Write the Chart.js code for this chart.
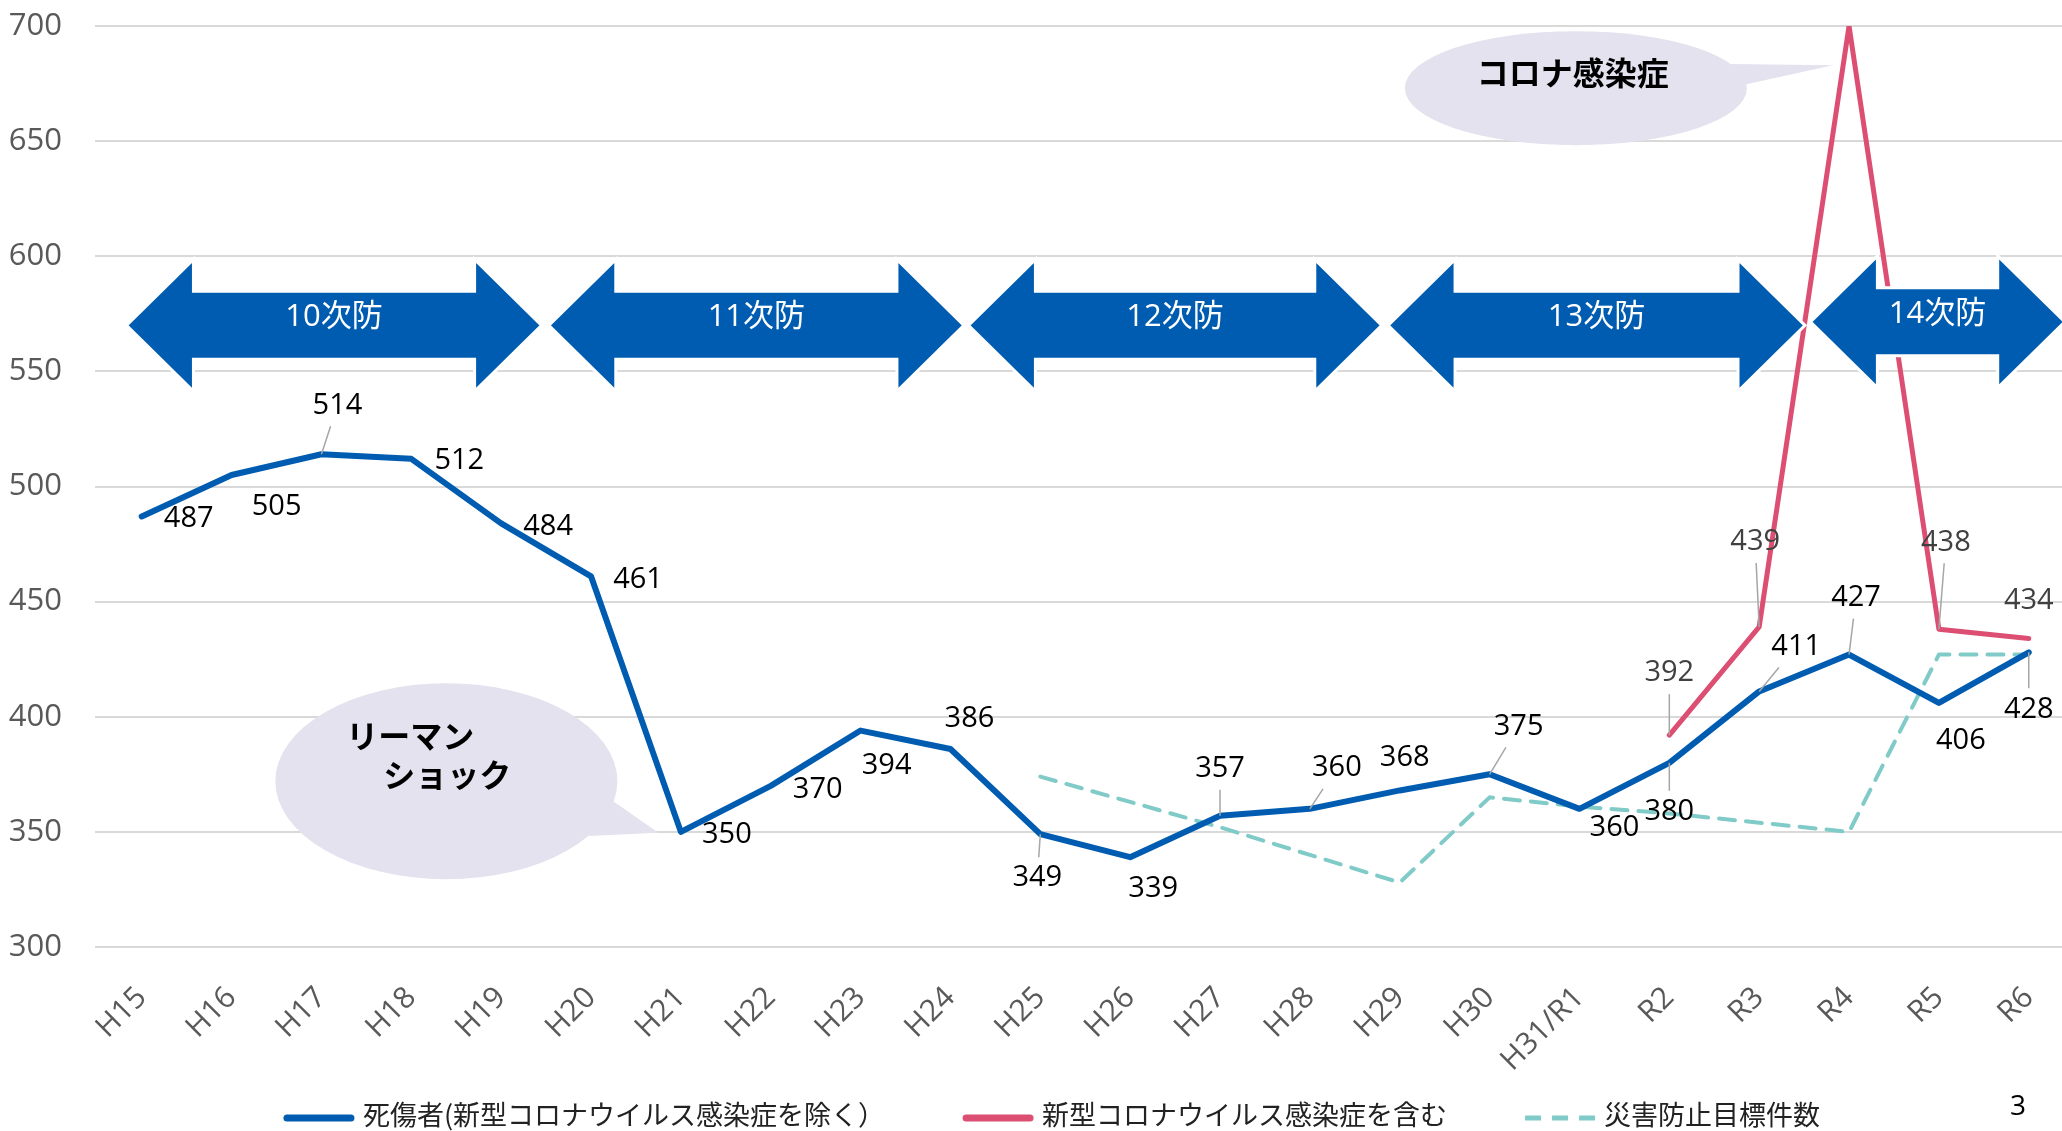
<!DOCTYPE html>
<html lang="ja">
<head>
<meta charset="utf-8">
<title>死傷者数の推移</title>
<script src="https://cdn.jsdelivr.net/npm/chart.js@4.4.1/dist/chart.umd.min.js"></script>
<style>
  html, body { margin: 0; padding: 0; background: #fff; }
</style>
</head>
<body>
<canvas id="chart" width="2062" height="1131"></canvas>
<script>
// 年度
const years = ['H15', 'H16', 'H17', 'H18', 'H19', 'H20', 'H21', 'H22', 'H23', 'H24', 'H25',
  'H26', 'H27', 'H28', 'H29', 'H30', 'H31/R1', 'R2', 'R3', 'R4', 'R5', 'R6'];

// 死傷者(新型コロナウイルス感染症を除く)
const casualties = [487, 505, 514, 512, 484, 461, 350, 370, 394, 386, 349,
  339, 357, 360, 368, 375, 360, 380, 411, 427, 406, 428];

// 新型コロナウイルス感染症を含む
const withCovid = [null, null, null, null, null, null, null, null, null, null, null,
  null, null, null, null, null, null, 392, 439, 700, 438, 434];

// 災害防止目標件数
const targets = [null, null, null, null, null, null, null, null, null, null, 374,
  363, 352, 340, 328, 365, 361, 358, 354, 350, 427, 427];

// y軸
const yMin = 300;
const yMax = 700;
const yStep = 50;

// 次防の期間（年度インデックス）
const plans = ['10次防', '11次防', '12次防', '13次防', '14次防'];
const planStart = [-0.17, 4.53, 9.2, 13.87, 18.57];
const planEnd = [4.45, 9.15, 13.8, 18.51, 21.4];

// データラベルの位置 [dx, dy, 引き出し線]
const casualtyLabelPos = [[47, 2], [45, 32], [16, -49, 1], [48, 2], [47, 3], [47, 3], [46, 3], [47, 4],
  [26, 35], [19, -30], [-3, 44, 1], [23, 32], [0, -47, 1], [27, -41, 1], [5, -33], [29, -48, 1],
  [35, 19], [0, 49, 1], [37, -45, 1], [7, -57, 1], [22, 38], [0, 57, 1]];
const covidLabelPos = {17: [0, -62, 1], 18: [-4, -85, 1], 20: [7, -87, 1], 21: [0, -38]};

const FONT = '"Open Sans", "Noto Sans CJK JP", sans-serif';
const JP_FONT = '"Noto Sans CJK JP", sans-serif';

function toPoints(values) {
    return values.map((v, i) => ({ x: i, y: v })).filter(p => p.y !== null);
}

// 吹き出し
const callouts = [
    { text: ['コロナ感染症'], x: 15.96, y: 673, rx: 171, ry: 57, tipX: 18.82, tipY: 683, a1: -25, a2: -4, tx: [-3], ty: [-15] },
    { text: ['リーマン', 'ショック'], x: 3.39, y: 372, rx: 171, ry: 98, tipX: 5.75, tipY: 349.6, a1: 12, a2: 34, tx: [-36, 1], ty: [-45, -6] }
];

const decorations = {
    id: 'decorations',
    beforeDatasetsDraw(chart) {
        const { ctx, scales: { x, y } } = chart;
        ctx.save();
        callouts.forEach(c => {
            const cx = x.getPixelForValue(c.x);
            const cy = y.getPixelForValue(c.y);
            ctx.fillStyle = '#e3e2ee';
            ctx.beginPath();
            ctx.ellipse(cx, cy, c.rx, c.ry, 0, 0, Math.PI * 2);
            ctx.fill();
            const t1 = c.a1 * Math.PI / 180, t2 = c.a2 * Math.PI / 180;
            ctx.beginPath();
            ctx.moveTo(cx + c.rx * Math.cos(t1), cy + c.ry * Math.sin(t1));
            ctx.lineTo(x.getPixelForValue(c.tipX), y.getPixelForValue(c.tipY));
            ctx.lineTo(cx + c.rx * Math.cos(t2), cy + c.ry * Math.sin(t2));
            ctx.closePath();
            ctx.fill();
            ctx.fillStyle = '#000';
            ctx.font = 'bold 32px ' + JP_FONT;
            ctx.textAlign = 'center';
            ctx.textBaseline = 'middle';
            c.text.forEach((t, i) => ctx.fillText(t, cx + c.tx[i], cy + c.ty[i]));
        });
        ctx.restore();
    },
    afterDatasetsDraw(chart) {
        const { ctx, scales: { x, y } } = chart;
        ctx.save();
        // 次防の矢印
        const head = 67, hh = 66, sh = 34;
        plans.forEach((label, i) => {
            const x1 = x.getPixelForValue(planStart[i]);
            const x2 = x.getPixelForValue(planEnd[i]);
            const yc = y.getPixelForValue(i === 4 ? 571.5 : 570);
            ctx.beginPath();
            ctx.moveTo(x1, yc);
            ctx.lineTo(x1 + head, yc - hh);
            ctx.lineTo(x1 + head, yc - sh);
            ctx.lineTo(x2 - head, yc - sh);
            ctx.lineTo(x2 - head, yc - hh);
            ctx.lineTo(x2, yc);
            ctx.lineTo(x2 - head, yc + hh);
            ctx.lineTo(x2 - head, yc + sh);
            ctx.lineTo(x1 + head, yc + sh);
            ctx.lineTo(x1 + head, yc + hh);
            ctx.closePath();
            ctx.fillStyle = '#005cb0';
            ctx.fill();
            ctx.strokeStyle = '#fff';
            ctx.lineWidth = 3;
            ctx.stroke();
            ctx.fillStyle = '#fff';
            ctx.font = '31px ' + FONT;
            ctx.textAlign = 'center';
            ctx.textBaseline = 'middle';
            ctx.fillText(label, (x1 + x2) / 2, yc - 8);
        });

        // データラベル
        ctx.font = '29px ' + FONT;
        ctx.textAlign = 'center';
        ctx.textBaseline = 'middle';
        chart.data.datasets.forEach((ds, di) => {
            const pos = ds.labelPos;
            if (!pos) return;
            const meta = chart.getDatasetMeta(di);
            meta.data.forEach((el, k) => {
                const raw = ds.data[k];
                const off = pos[raw.x];
                if (!off) return;
                const px = el.x, py = el.y;
                const cx = px + off[0], cy = py + off[1];
                const text = String(raw.y);
                if (off[2]) {
                    const w = ctx.measureText(text).width;
                    const hw = w / 2 + 6, hh2 = 11 + 10;
                    const dx = px - cx, dy = py - cy;
                    const t = Math.min(dx !== 0 ? hw / Math.abs(dx) : Infinity, dy !== 0 ? hh2 / Math.abs(dy) : Infinity);
                    if (t < 1) {
                        ctx.strokeStyle = '#a6a6a6';
                        ctx.lineWidth = 1.5;
                        ctx.beginPath();
                        ctx.moveTo(px, py);
                        ctx.lineTo(cx + dx * t, cy + dy * t);
                        ctx.stroke();
                    }
                }
                ctx.fillStyle = ds.labelColor;
                ctx.fillText(text, cx, cy);
            });
        });
        ctx.restore();
    },
    afterDraw(chart) {
        const { ctx } = chart;
        ctx.save();
        // 凡例
        ctx.font = '27px ' + JP_FONT;
        ctx.textBaseline = 'middle';
        ctx.textAlign = 'left';
        const sample = 70, gap = 9, itemGaps = [78, 78];
        const items = chart.data.datasets.map(ds => ({ ds, w: ctx.measureText(ds.label).width }));
        const total = items.reduce((s, it) => s + sample + gap + it.w, 0) + itemGaps[0] + itemGaps[1];
        let lx = chart.width / 2 + 21 - total / 2;
        const ly = chart.height - 16;
        items.forEach(({ ds, w }, i) => {
            ctx.strokeStyle = ds.borderColor;
            ctx.lineWidth = ds.borderDash ? 5 : 7;
            ctx.lineCap = ds.borderDash ? 'butt' : 'round';
            ctx.setLineDash(ds.borderDash || []);
            ctx.beginPath();
            const pad = ds.borderDash ? 0 : 3;
            ctx.moveTo(lx + pad, ly + 3);
            ctx.lineTo(lx + sample - pad, ly + 3);
            ctx.stroke();
            ctx.setLineDash([]);
            ctx.fillStyle = '#222';
            ctx.fillText(ds.label, lx + sample + gap, ly);
            lx += sample + gap + w + (itemGaps[i] || 0);
        });

        // ページ番号
        ctx.fillStyle = '#000';
        ctx.font = '28px ' + FONT;
        ctx.textAlign = 'center';
        ctx.fillText('3', chart.width - 44, chart.height - 24);
        ctx.restore();
    }
};

const ctx = document.getElementById('chart').getContext('2d');
window.casualtyChart = new Chart(ctx, {
    type: 'line',
    data: {
        datasets: [{
            label: '死傷者(新型コロナウイルス感染症を除く）',
            data: toPoints(casualties),
            borderColor: '#005cb0',
            backgroundColor: '#005cb0',
            borderWidth: 6,
            labelPos: casualtyLabelPos,
            labelColor: '#000'
        }, {
            label: '新型コロナウイルス感染症を含む',
            data: toPoints(withCovid),
            borderColor: '#dc4f72',
            backgroundColor: '#dc4f72',
            borderWidth: 5,
            labelPos: covidLabelPos,
            labelColor: '#404040'
        }, {
            label: '災害防止目標件数',
            data: toPoints(targets),
            borderColor: '#80cbc8',
            backgroundColor: '#80cbc8',
            borderWidth: 4,
            borderDash: [16, 11]
        }]
    },
    options: {
        responsive: false,
        devicePixelRatio: 1,
        animation: false,
        layout: { padding: { top: 26, bottom: 59, left: 0, right: 0 } },
        elements: {
            point: { radius: 0, hoverRadius: 0 },
            line: { tension: 0, borderJoinStyle: 'round', borderCapStyle: 'round' }
        },
        plugins: {
            tooltip: { enabled: false },
            legend: { display: false }
        },
        scales: {
            x: {
                type: 'linear',
                min: -0.52,
                max: 21.37,
                grid: { display: false, drawTicks: true, tickLength: 29 },
                border: { display: false },
                afterBuildTicks: (scale) => { scale.ticks = years.map((_, i) => ({ value: i })); },
                afterFit: (scale) => { scale.height = 125; },
                ticks: {
                    autoSkip: false,
                    minRotation: 45,
                    maxRotation: 45,
                    padding: 4,
                    color: '#595959',
                    font: { family: FONT, size: 30 },
                    callback: (v) => years[v] ?? ''
                }
            },
            y: {
                min: yMin,
                max: yMax,
                grid: { color: '#d9d9d9', lineWidth: 2, drawTicks: true, tickLength: 31, tickColor: 'rgba(0,0,0,0)' },
                border: { display: false },
                afterFit: (scale) => { scale.width = 95; },
                ticks: {
                    stepSize: yStep,
                    padding: 2,
                    color: '#595959',
                    font: { family: FONT, size: 31 }
                }
            }
        }
    },
    plugins: [decorations]
});
</script>
</body>
</html>
